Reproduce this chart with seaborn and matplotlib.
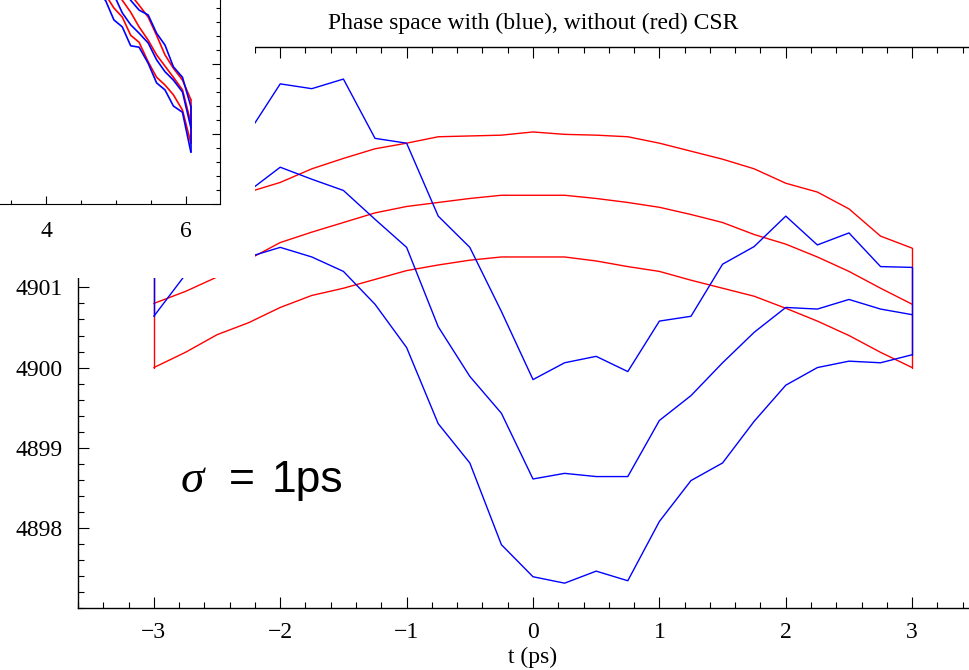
import numpy as np
import pandas as pd
import matplotlib
matplotlib.use("Agg")
import matplotlib.pyplot as plt
import seaborn as sns
from matplotlib.ticker import MultipleLocator, FixedLocator

# main panel: bunch time (ps) and energy rows
t_ps = [-3.0, -2.75, -2.5, -2.25, -2.0, -1.75, -1.5, -1.25, -1.0, -0.75, -0.5, -0.25,
        0.0, 0.25, 0.5, 0.75, 1.0, 1.25, 1.5, 1.75, 2.0, 2.25, 2.5, 2.75, 3.0]

red_low = [4900.0, 4900.19, 4900.41, 4900.56, 4900.75, 4900.9, 4900.99, 4901.1, 4901.21,
           4901.28, 4901.34, 4901.38, 4901.38, 4901.38, 4901.33, 4901.26, 4901.2, 4901.09,
           4900.99, 4900.89, 4900.74, 4900.58, 4900.4, 4900.19, 4900.0]
red_mid = [4900.8, 4900.95, 4901.13, 4901.35, 4901.56, 4901.69, 4901.81, 4901.93, 4902.01,
           4902.06, 4902.11, 4902.15, 4902.15, 4902.15, 4902.11, 4902.06, 4902.0, 4901.91,
           4901.81, 4901.66, 4901.54, 4901.38, 4901.2, 4900.99, 4900.79]
red_high = [4901.48, 4901.65, 4901.98, 4902.19, 4902.31, 4902.48, 4902.61, 4902.73, 4902.8,
            4902.88, 4902.89, 4902.9, 4902.94, 4902.91, 4902.9, 4902.88, 4902.8, 4902.7,
            4902.6, 4902.48, 4902.3, 4902.19, 4901.98, 4901.64, 4901.49]

blue_low = [4900.64, 4901.16, 4901.33, 4901.38, 4901.5, 4901.38, 4901.2, 4900.79, 4900.25,
            4899.3, 4898.81, 4897.79, 4897.39, 4897.31, 4897.46, 4897.34, 4898.08, 4898.59,
            4898.81, 4899.33, 4899.78, 4900.0, 4900.08, 4900.06, 4900.16]
blue_mid = [4901.48, 4901.79, 4902.1, 4902.2, 4902.5, 4902.35, 4902.21, 4901.85, 4901.5,
            4900.51, 4899.89, 4899.43, 4898.61, 4898.68, 4898.64, 4898.64, 4899.34, 4899.65,
            4900.06, 4900.44, 4900.75, 4900.73, 4900.85, 4900.73, 4900.66]
blue_high = [4902.04, 4902.35, 4902.73, 4902.93, 4903.54, 4903.48, 4903.6, 4902.86, 4902.8,
             4901.89, 4901.5, 4900.7, 4899.85, 4900.06, 4900.14, 4899.95, 4900.58, 4900.64,
             4901.29, 4901.51, 4901.89, 4901.53, 4901.68, 4901.26, 4901.25]

# small inset in the top-left corner
inset_t = [4.85, 4.97, 5.09, 5.21, 5.33, 5.46, 5.58, 5.70, 5.82, 5.95, 6.07]
inset_red = [
    [4902.99, 4902.8, 4902.67, 4902.41, 4902.31, 4902.03, 4901.81, 4901.7, 4901.56, 4901.34, 4900.87],
    [4903.27, 4903.09, 4902.91, 4902.74, 4902.53, 4902.34, 4902.13, 4901.97, 4901.81, 4901.63, 4901.16],
    [4903.56, 4903.34, 4903.13, 4902.99, 4902.84, 4902.67, 4902.41, 4902.13, 4901.94, 4901.77, 4901.49],
]
inset_blue = [
    [4902.91, 4902.63, 4902.53, 4902.26, 4902.24, 4902.01, 4901.73, 4901.63, 4901.4, 4901.31, 4900.74],
    [4903.2, 4902.99, 4902.73, 4902.56, 4902.44, 4902.3, 4902.06, 4901.89, 4901.77, 4901.6, 4901.09],
    [4903.49, 4903.27, 4903.06, 4902.91, 4902.77, 4902.7, 4902.44, 4902.27, 4901.96, 4901.81, 4901.39],
]

main_xticks = [-3, -2, -1, 0, 1, 2, 3]
main_yticks = [4898, 4899, 4900, 4901]
inset_xticks = [4, 6]


def build_lines(t, rows):
    """Long-form frame: every energy row plus the two closing edges at the ends."""
    parts = []
    for i, e in enumerate(rows):
        parts.append(pd.DataFrame({"t": t, "E": e, "line": f"row{i}"}))
    for name, idx in (("left", 0), ("right", -1)):
        ends = [r[idx] for r in rows]
        parts.append(pd.DataFrame({"t": [t[idx]] * len(ends), "E": ends, "line": name}))
    return pd.concat(parts, ignore_index=True)


def draw(ax, df, color, lw):
    sns.lineplot(data=df, x="t", y="E", units="line", estimator=None, sort=False,
                 color=color, lw=lw, ax=ax)


sns.set_style("ticks")
plt.rcParams["font.family"] = ["Liberation Serif", "DejaVu Serif"]
plt.rcParams["axes.unicode_minus"] = True
for key in ("text.color", "axes.labelcolor", "xtick.color", "ytick.color", "axes.edgecolor"):
    plt.rcParams[key] = "black"

fig = plt.figure(figsize=(9.7, 6.7), dpi=100)

# main axes (runs slightly past the right edge of the figure, like the original)
ax = fig.add_axes([78 / 970, 62 / 670, 910 / 970, 561 / 670], zorder=1)
draw(ax, build_lines(t_ps, [red_low, red_mid, red_high]), "#ff0000", 1.0)
draw(ax, build_lines(t_ps, [blue_low, blue_mid, blue_high]), "#0000ff", 1.0)

ax.set_xlim(-3.6, 3.6)
ax.set_ylim(4897.0, 4904.0)
ax.xaxis.set_major_locator(FixedLocator(main_xticks))
ax.yaxis.set_major_locator(FixedLocator(main_yticks))
ax.xaxis.set_minor_locator(MultipleLocator(0.2))
ax.yaxis.set_minor_locator(MultipleLocator(0.2))
ax.tick_params(which="both", direction="in", top=True, right=True, width=0.8)
ax.tick_params(which="major", length=8)
ax.tick_params(which="minor", length=4)
ax.tick_params(axis="x", labelsize=17, pad=10)
ax.tick_params(axis="y", labelsize=17, pad=11)
for s in ax.spines.values():
    s.set_linewidth(1.0)
ax.set_xlabel("t (ps)", fontsize=17, labelpad=3)
ax.set_ylabel("")
ax.set_title("Phase space with (blue), without (red) CSR", fontsize=17, pad=13)

ax.text(-2.79, 4898.45, "σ", fontsize=34, style="italic",
        family=["Liberation Serif", "DejaVu Serif"], va="baseline")
ax.text(-2.41, 4898.45, "=", fontsize=32, family=["Liberation Sans", "DejaVu Sans"],
        va="baseline")
ax.text(-2.07, 4898.45, "1ps", fontsize=32, family=["Liberation Sans", "DejaVu Sans"],
        va="baseline")

# white sheet the inset sits on
cover = fig.add_axes([0, 392 / 670, 255 / 970, 278 / 670], zorder=2)
cover.set_facecolor("white")
cover.set_xticks([])
cover.set_yticks([])
for s in cover.spines.values():
    s.set_visible(False)

ins = fig.add_axes([0, 466 / 670, 220 / 970, 204 / 670], zorder=3)
ins.set_facecolor("white")
draw(ins, build_lines(inset_t, inset_red), "#ff0000", 1.2)
draw(ins, build_lines(inset_t, inset_blue), "#0000ff", 1.2)
ins.set_xlim(3.343, 6.486)
ins.set_ylim(4900.0, 4902.914)
ins.xaxis.set_major_locator(FixedLocator(inset_xticks))
ins.xaxis.set_minor_locator(MultipleLocator(0.5))
ins.yaxis.set_major_locator(MultipleLocator(1.0))
ins.yaxis.set_minor_locator(MultipleLocator(0.2))
ins.yaxis.tick_right()
ins.tick_params(which="both", direction="in", width=0.8)
ins.tick_params(which="major", length=6)
ins.tick_params(which="minor", length=3)
ins.tick_params(axis="x", labelsize=17, pad=12)
ins.tick_params(axis="y", labelright=False, labelleft=False)
ins.spines["left"].set_visible(False)
ins.spines["top"].set_visible(False)
ins.set_xlabel("")
ins.set_ylabel("")

fig.savefig("out.png", dpi=100)
